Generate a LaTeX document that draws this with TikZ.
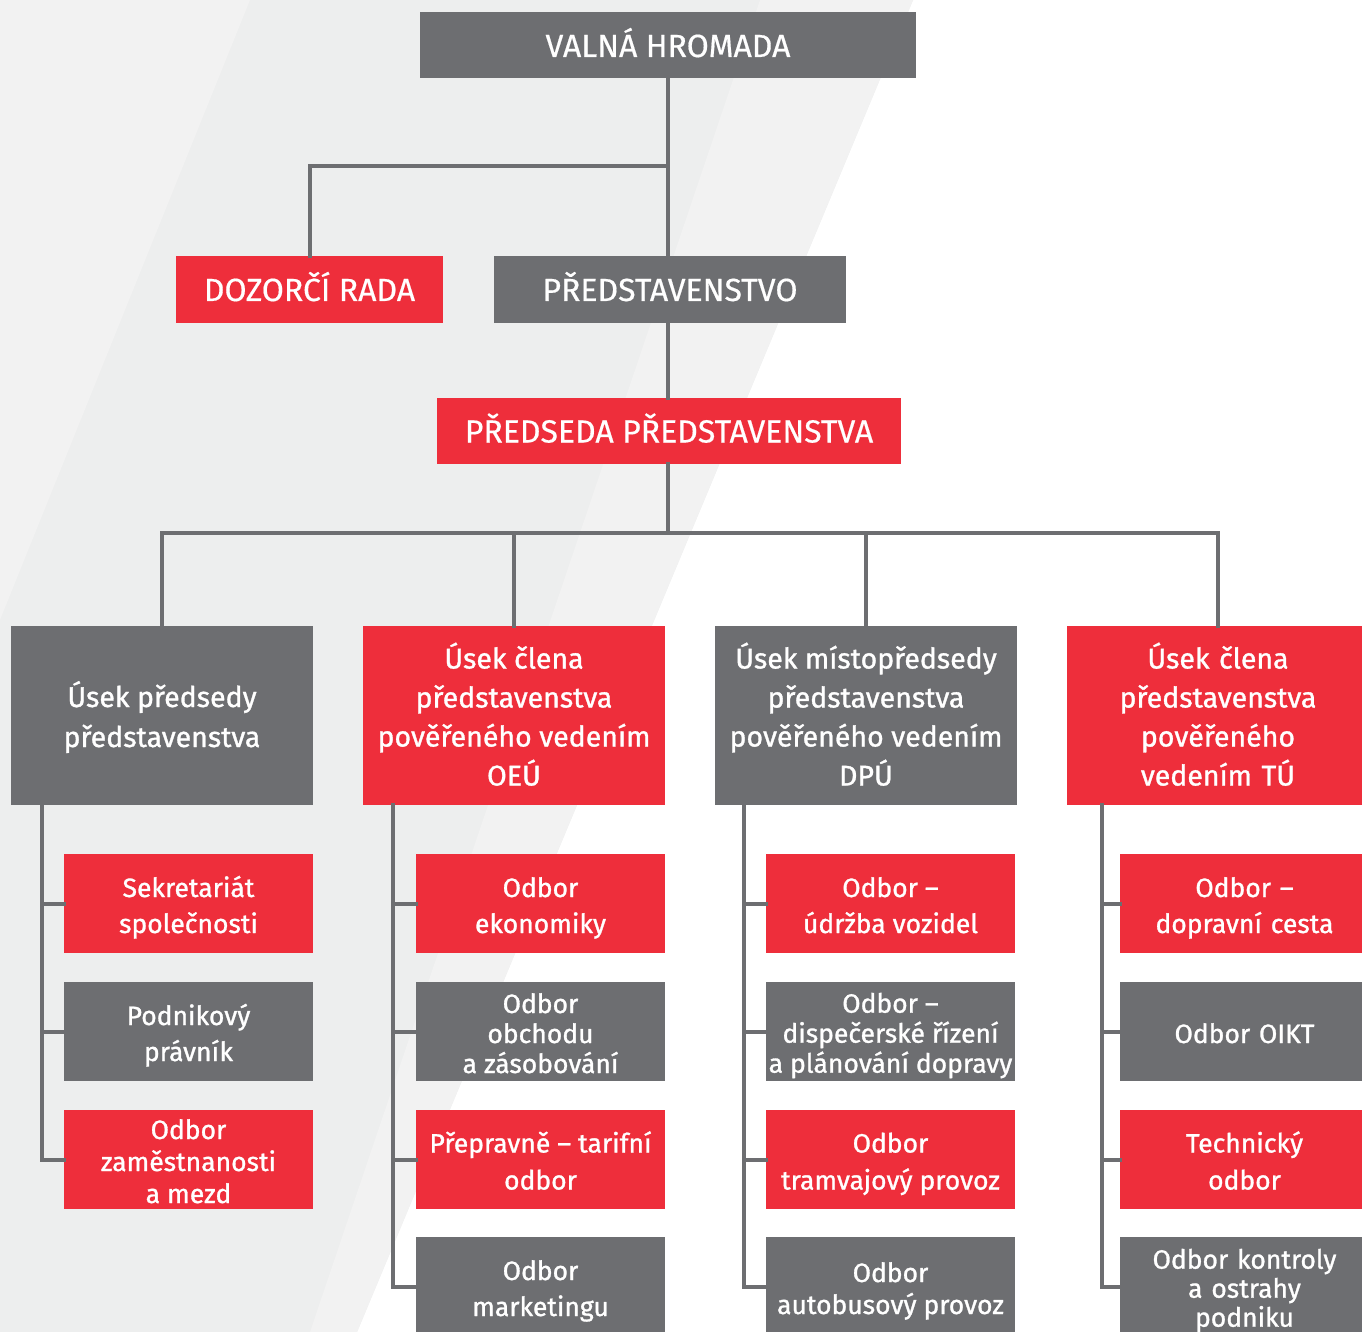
\documentclass[tikz,border=0pt]{standalone}
\usepackage{fontspec}
\setmainfont{Fira Sans}
\newfontfamily\topfont{Fira Sans}[FakeBold=0.5]
\newfontfamily\boxfont{Fira Sans}[FakeBold=1.1]
\definecolor{pgray}{HTML}{6D6E71}
\definecolor{pred}{HTML}{EE2E3B}
\definecolor{bgmain}{HTML}{EDEEEE}
\definecolor{bglight}{HTML}{F2F2F2}
\newcommand\Tp{\rule{0pt}{34pt}}
\newcommand\Bt{\rule[-11pt]{0pt}{11pt}}
\newcommand\Tq{\rule{0pt}{28pt}}
\newcommand\Bq{\rule[-5pt]{0pt}{5pt}}
\begin{document}
\begin{tikzpicture}[x=1pt,y=-1pt,
  box/.style={rectangle, inner sep=0pt, outer sep=0pt, text=white, align=center},
  gbox/.style={box, fill=pgray},
  rbox/.style={box, fill=pred},
  top/.style={minimum height=66pt, font=\topfont\fontsize{32}{38}\selectfont},
  head/.style={minimum width=302pt, minimum height=179pt},
  sub/.style={minimum width=249pt, minimum height=99pt},
  conn/.style={draw=pgray, line width=4pt, line cap=rect}
]
\useasboundingbox (0,0) rectangle (1362,1332);
\clip (0,0) rectangle (1362,1332);
% background
\fill[white] (0,0) rectangle (1362,1332);
\fill[bgmain] (0,0) -- (913,0) -- (357,1332) -- (0,1332) -- cycle;
\fill[bglight] (0,0) -- (250,0) -- (0,620) -- cycle;
\fill[bglight] (760,0) -- (913,0) -- (357,1332) -- (310,1332) -- cycle;

% top level
\node[gbox, top, minimum width=496pt] (vh) at (668,45.5) {\Tp VALNÁ HROMADA\Bt};
\node[rbox, top, minimum width=267pt] (dr) at (309.5,289.5) {\Tp DOZORČÍ RADA\Bt};
\node[gbox, top, minimum width=352pt] (pr) at (670,289.5) {\Tp PŘEDSTAVENSTVO\Bt};
\node[rbox, top, minimum width=464pt] (pp) at (669,431) {\Tp PŘEDSEDA PŘEDSTAVENSTVA\Bt};

% section heads
\node[gbox, head, font=\boxfont\fontsize{28.5}{40}\selectfont] (h1) at (162,715.5) {\Tp Úsek předsedy\\představenstva\Bt};
\node[rbox, head, font=\boxfont\fontsize{28.5}{39}\selectfont] (h2) at (514,715.5) {\Tp Úsek člena\\představenstva\\pověřeného vedením\\OEÚ\Bt};
\node[gbox, head, font=\boxfont\fontsize{28.5}{39}\selectfont] (h3) at (866,715.5) {\Tp Úsek místopředsedy\\představenstva\\pověřeného vedením\\DPÚ\Bt};
\node[rbox, head, font=\boxfont\fontsize{28.5}{39}\selectfont, text width=302pt] (h4) at (1218,715.5) {\Tp Úsek člena\\představenstva\\pověřeného\\vedením TÚ\Bt};

% sub units, column 1
\node[rbox, sub, font=\boxfont\fontsize{26.5}{36}\selectfont] (a1) at (188.5,903.5) {\Tp Sekretariát\\společnosti\Bt};
\node[gbox, sub, font=\boxfont\fontsize{26.5}{36}\selectfont] (a2) at (188.5,1031.5) {\Tp Podnikový\\právník\Bt};
\node[rbox, sub, font=\boxfont\fontsize{26.5}{32}\selectfont] (a3) at (188.5,1159.5) {\Tq Odbor\\zaměstnanosti\\a~mezd\Bq};
% column 2
\node[rbox, sub, font=\boxfont\fontsize{26.5}{36}\selectfont] (b1) at (540.5,903.5) {\Tp Odbor\\ekonomiky\Bt};
\node[gbox, sub, font=\boxfont\fontsize{26.5}{30}\selectfont] (b2) at (540.5,1031.5) {\Tq Odbor\\obchodu\\a~zásobování\Bq};
\node[rbox, sub, font=\boxfont\fontsize{26.5}{37}\selectfont] (b3) at (540.5,1159.5) {\Tp Přepravně – tarifní\\odbor\Bt};
\node[gbox, sub, font=\boxfont\fontsize{26.5}{36}\selectfont] (b4) at (540.5,1286.5) {\Tp Odbor\\marketingu\Bt};
% column 3
\node[rbox, sub, font=\boxfont\fontsize{26.5}{36}\selectfont] (c1) at (890.5,903.5) {\Tp Odbor –\\údržba vozidel\Bt};
\node[gbox, sub, font=\boxfont\fontsize{26.5}{30}\selectfont] (c2) at (890.5,1031.5) {\Tq Odbor –\\dispečerské řízení\\a~plánování dopravy\Bq};
\node[rbox, sub, font=\boxfont\fontsize{26.5}{37}\selectfont] (c3) at (890.5,1159.5) {\Tp Odbor\\tramvajový provoz\Bt};
\node[gbox, sub, font=\boxfont\fontsize{26.5}{32}\selectfont] (c4) at (890.5,1286.5) {\Tp Odbor\\autobusový provoz\Bt};
% column 4
\node[rbox, sub, font=\boxfont\fontsize{26.5}{36}\selectfont, text width=249pt] (d1) at (1244.5,903.5) {\Tp Odbor –\\dopravní cesta\Bt};
\node[gbox, sub, font=\boxfont\fontsize{26.5}{36}\selectfont, text width=249pt] (d2) at (1244.5,1031.5) {\Tp Odbor OIKT\Bt};
\node[rbox, sub, font=\boxfont\fontsize{26.5}{37}\selectfont, text width=249pt] (d3) at (1244.5,1159.5) {\Tp Technický\\odbor\Bt};
\node[gbox, sub, font=\boxfont\fontsize{26.5}{29}\selectfont, text width=249pt] (d4) at (1244.5,1286.5) {\Tq Odbor kontroly\\a~ostrahy\\podniku\Bq};

% connectors top
\coordinate (j1) at (668,166);
\coordinate (bus) at (668,533);
\draw[conn] (vh.south -| j1) -- (pr.north -| j1);
\draw[conn] (pr.south -| j1) -- (pp.north -| j1);
\draw[conn] (j1) -| (dr.north);
\draw[conn] (pp.south -| bus) -- (bus);
\draw[conn] (h1.north) |- (bus) -| (h4.north);
\draw[conn] (h2.north) -- (h2.north |- bus);
\draw[conn] (h3.north) -- (h3.north |- bus);

% trees
\coordinate (t1) at (42,805);
\coordinate (t2) at (393,805);
\coordinate (t3) at (744,805);
\coordinate (t4) at (1102,805);
\draw[conn] (t1) |- (a3.west);
\draw[conn] (a1.west) -- (a1.west -| t1);
\draw[conn] (a2.west) -- (a2.west -| t1);
\draw[conn] (t2) |- (b4.west);
\draw[conn] (b1.west) -- (b1.west -| t2);
\draw[conn] (b2.west) -- (b2.west -| t2);
\draw[conn] (b3.west) -- (b3.west -| t2);
\draw[conn] (t3) |- (c4.west);
\draw[conn] (c1.west) -- (c1.west -| t3);
\draw[conn] (c2.west) -- (c2.west -| t3);
\draw[conn] (c3.west) -- (c3.west -| t3);
\draw[conn] (t4) |- (d4.west);
\draw[conn] (d1.west) -- (d1.west -| t4);
\draw[conn] (d2.west) -- (d2.west -| t4);
\draw[conn] (d3.west) -- (d3.west -| t4);
\end{tikzpicture}
\end{document}
